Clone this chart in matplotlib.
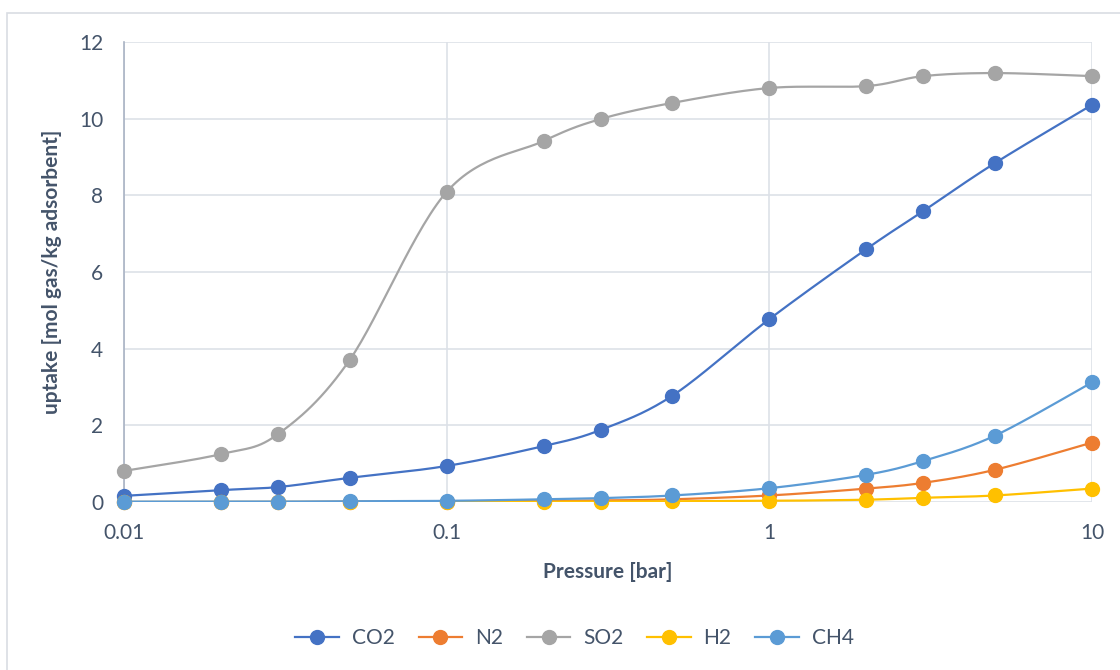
import numpy as np
import matplotlib
matplotlib.use("Agg")
import matplotlib.pyplot as plt
from matplotlib.lines import Line2D
from matplotlib.patches import Rectangle

# Adsorption isotherm data
pressure = [0.01, 0.02, 0.03, 0.05, 0.1, 0.2, 0.3, 0.5, 1, 2, 3, 5, 10]
co2 = [0.16, 0.31, 0.39, 0.63, 0.94, 1.46, 1.88, 2.77, 4.77, 6.60, 7.59, 8.84, 10.36]
n2 = [0.00, 0.00, 0.00, 0.01, 0.01, 0.03, 0.04, 0.07, 0.17, 0.35, 0.50, 0.84, 1.55]
so2 = [0.81, 1.25, 1.77, 3.70, 8.09, 9.42, 9.99, 10.41, 10.80, 10.85, 11.11, 11.19, 11.11]
h2 = [0.00, 0.00, 0.00, 0.00, 0.00, 0.01, 0.01, 0.02, 0.03, 0.06, 0.11, 0.17, 0.35]
ch4 = [0.01, 0.01, 0.01, 0.02, 0.03, 0.07, 0.10, 0.17, 0.36, 0.71, 1.07, 1.73, 3.12]

series_names = ["CO2", "N2", "SO2", "H2", "CH4"]
series_values = [co2, n2, so2, h2, ch4]
series_colors = ["#4472C4", "#ED7D31", "#A5A5A5", "#FFC000", "#5B9BD5"]

x_ticks = [0.01, 0.1, 1, 10]
x_tick_labels = ["0.01", "0.1", "1", "10"]
y_ticks = [0, 2, 4, 6, 8, 10, 12]

text_color = "#44546A"
grid_color = "#DDE1E8"
font = "Lato"


def smooth_curve(xs, ys, n=30):
    """Catmull-Rom style Bezier smoothing in (log10 x, y) space."""
    lx = np.log10(np.asarray(xs, float))
    y = np.asarray(ys, float)
    pts = np.column_stack([lx, y])
    out = []
    m = len(pts)
    for i in range(m - 1):
        p0 = pts[i - 1] if i > 0 else pts[i]
        p1 = pts[i]
        p2 = pts[i + 1]
        p3 = pts[i + 2] if i + 2 < m else pts[i + 1]
        c1 = p1 + (p2 - p0) / 6.0
        c2 = p2 - (p3 - p1) / 6.0
        t = np.linspace(0, 1, n, endpoint=(i == m - 2))[:, None]
        seg = ((1 - t) ** 3) * p1 + 3 * ((1 - t) ** 2) * t * c1 \
            + 3 * (1 - t) * t ** 2 * c2 + t ** 3 * p2
        out.append(seg)
    curve = np.vstack(out)
    return 10 ** curve[:, 0], curve[:, 1]


fig = plt.figure(figsize=(11.2, 6.7), dpi=100)
fig.patches.append(Rectangle((7 / 1120, -0.01), 1.2, (670 - 13) / 670 + 0.01,
                             transform=fig.transFigure, fill=False,
                             edgecolor="#D9DDE3", linewidth=1.2))

ax = fig.add_axes([124 / 1120, (670 - 502) / 670, 968 / 1120, 460 / 670])
ax.set_xscale("log")
ax.set_xlim(0.01, 10)
ax.set_ylim(0, 12)

for name, vals, col in zip(series_names, series_values, series_colors):
    sx, sy = smooth_curve(pressure, vals)
    ax.plot(sx, sy, color=col, linewidth=1.6, zorder=3)
    ax.plot(pressure, vals, linestyle="none", marker="o", markersize=10,
            color=col, markeredgecolor=col, zorder=4, clip_on=False)

ax.set_xticks(x_ticks)
ax.set_xticklabels(x_tick_labels)
ax.xaxis.set_minor_locator(matplotlib.ticker.NullLocator())
ax.set_yticks(y_ticks)
ax.grid(True, color=grid_color, linewidth=1.2, zorder=0)
ax.set_axisbelow(True)
ax.tick_params(axis="both", length=0, labelsize=15, labelcolor=text_color)
ax.tick_params(axis="y", pad=15)
ax.tick_params(axis="x", pad=15)
for lab in ax.get_xticklabels() + ax.get_yticklabels():
    lab.set_fontfamily(font)

for side in ["top", "right", "bottom"]:
    ax.spines[side].set_visible(False)
ax.spines["left"].set_color("#A9B3C4")
ax.spines["left"].set_linewidth(1.2)

ax.set_xlabel("Pressure [bar]", fontsize=15, fontweight="bold",
              color=text_color, fontfamily=font, labelpad=14)
ax.set_ylabel("uptake [mol gas/kg adsorbent]", fontsize=15, fontweight="bold",
              color=text_color, fontfamily=font, labelpad=12)

handles = [Line2D([0], [0], color=c, linewidth=1.6, marker="o", markersize=10)
           for c in series_colors]
fig.legend(handles, series_names, loc="center", bbox_to_anchor=(0.513, 1 - 638 / 670),
           ncol=5, frameon=False, handlelength=2.1, columnspacing=1.15,
           handletextpad=0.6, prop={"family": font, "size": 15},
           labelcolor=text_color)

fig.savefig("out.png", dpi=100)
